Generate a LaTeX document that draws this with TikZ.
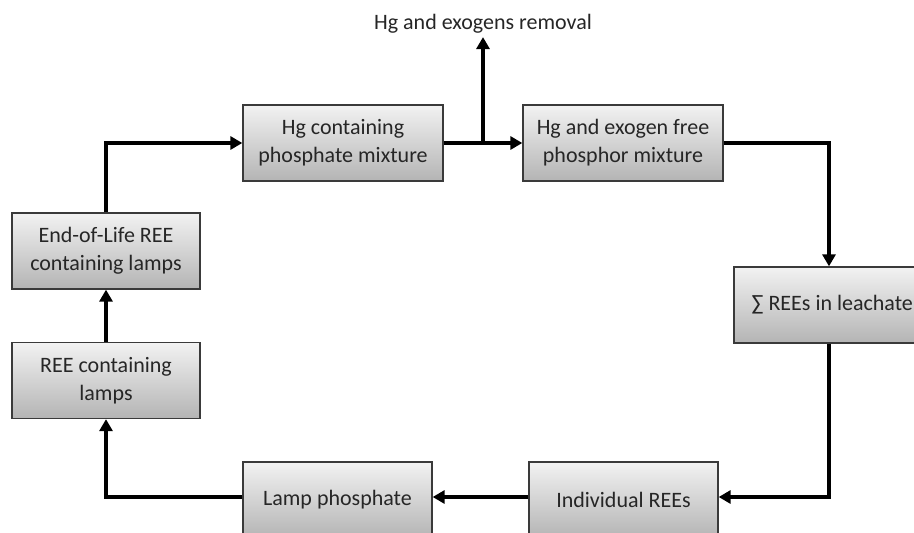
\documentclass[tikz,border=0pt]{standalone}
\usepackage{fontspec}
\setmainfont{Carlito}
\usetikzlibrary{arrows.meta}
\definecolor{boxedge}{HTML}{3A3A3A}
\definecolor{boxtop}{HTML}{F2F2F2}
\definecolor{boxbot}{HTML}{B4B4B4}
\tikzset{
  stage/.style={draw=boxedge, line width=1.3pt, top color=boxtop, bottom color=boxbot,
    minimum width=#1, minimum height=76pt, align=center, inner sep=0pt,
    font=\fontsize{22}{28}\selectfont, text=black!85},
  stage/.default=200pt,
  flow/.style={line width=3.6pt, -{Triangle[length=12pt,width=13pt]}},
  link/.style={line width=3.6pt}
}
\begin{document}
\begin{tikzpicture}[x=1pt,y=-1pt]
\useasboundingbox (0,0) rectangle (914,533);
\clip (0,0) rectangle (914,533);

% process stages
\node[stage=200pt] (hgmix)  at (343,143) {Hg containing\\phosphate mixture};
\node[stage=200pt] (free)   at (623,143) {Hg and exogen free\\phosphor mixture};
\node[stage=200pt] (sum)    at (834,305) {$\!$∑ REEs in leachate};
\node[stage=189pt] (indiv)  at (623.5,500) {Individual REEs};
\node[stage=189pt] (lampph) at (337.5,500) {Lamp phosphate};
\node[stage=188pt] (lamps)  at (106,380.5) {REE containing\\lamps};
\node[stage=188pt] (eol)    at (106,251) {End-of-Life REE\\containing lamps};

% removal branch
\node[font=\fontsize{22}{28}\selectfont, text=black!85] (removal) at (483,24) {Hg and exogens removal};
\coordinate (split) at (483,143);
\coordinate (top-left) at (106,143);
\coordinate (right-turn) at (829,143);
\coordinate (down-turn) at (829,497);
\coordinate (left-turn) at (106,497);

% connectors
\draw[flow] (eol.north -| top-left) -- (top-left) -- (hgmix.west);
\draw[link] (hgmix.east) -- (split);
\draw[flow] (split) -- (free.west);
\draw[flow] (split) -- (removal.south);
\draw[flow] (free.east) -- (right-turn) -- (sum.north -| right-turn);
\draw[flow] (sum.south -| down-turn) -- (down-turn) -- (indiv.east |- down-turn);
\draw[flow] (indiv.west |- down-turn) -- (lampph.east |- down-turn);
\draw[flow] (lampph.west |- left-turn) -- (left-turn) -- (lamps.south);
\draw[flow] (lamps.north) -- (eol.south);
\end{tikzpicture}
\end{document}
